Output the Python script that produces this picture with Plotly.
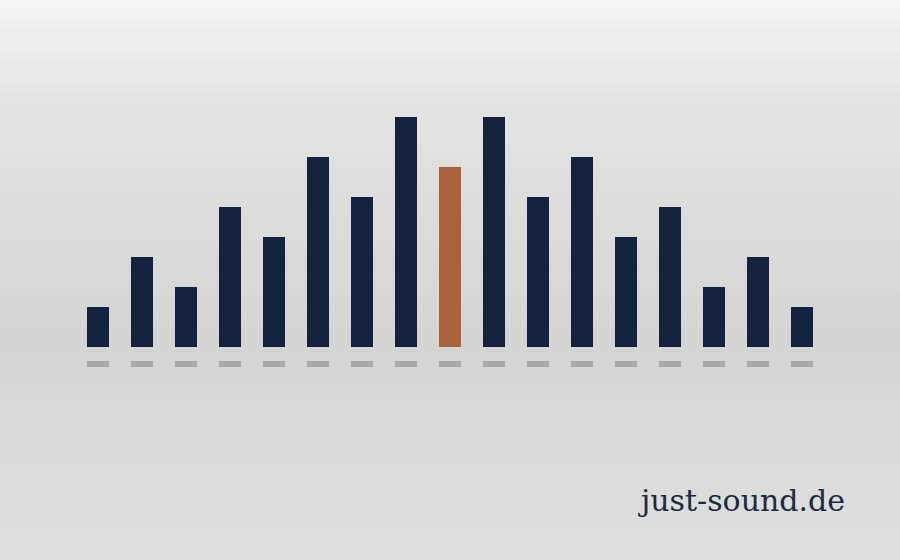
import base64
import plotly.graph_objects as go

# bar heights (one unit = 10 px)
positions = list(range(17))
levels = [4, 9, 6, 14, 11, 19, 15, 23, 18, 23, 15, 19, 11, 14, 6, 9, 4]
highlight = 8  # the orange one in the middle
shadow_size = [0.6] * 17

navy = '#13233f'
orange = '#a9623b'
colors = [orange if i == highlight else navy for i in positions]

# soft vertical gradient behind everything
svg = (
    '<svg xmlns="http://www.w3.org/2000/svg" width="900" height="560">'
    '<defs><linearGradient id="g" x1="0" y1="0" x2="0" y2="1">'
    '<stop offset="0" stop-color="#f4f4f2"/>'
    '<stop offset="0.2" stop-color="#e3e3e1"/>'
    '<stop offset="0.6" stop-color="#d4d4d2"/>'
    '<stop offset="1" stop-color="#dfdfdd"/>'
    '</linearGradient></defs>'
    '<rect width="900" height="560" fill="url(#g)"/></svg>'
)
bg = 'data:image/svg+xml;base64,' + base64.b64encode(svg.encode()).decode()

fig = go.Figure()
fig.add_trace(go.Bar(
    x=positions, y=levels, width=0.5,
    marker=dict(color=colors, line=dict(width=0)),
    hoverinfo='skip'
))
# little grey dashes under each bar
fig.add_trace(go.Bar(
    x=positions, y=shadow_size, base=-2.0, width=0.5,
    marker=dict(color='#a8a9ab', line=dict(width=0)),
    hoverinfo='skip'
))

fig.add_annotation(
    text='just-sound.de', xref='paper', yref='paper',
    x=847 / 900, y=0.107, xanchor='right', yanchor='middle',
    showarrow=False,
    font=dict(family='DejaVu Serif, serif', size=30, color='#1a2a44')
)

fig.update_layout(
    width=900, height=560,
    margin=dict(l=0, r=0, t=0, b=0),
    paper_bgcolor='#d8d8d6', plot_bgcolor='rgba(0,0,0,0)',
    showlegend=False, barmode='overlay',
    images=[dict(source=bg, xref='paper', yref='paper', x=0, y=1,
                 sizex=1, sizey=1, sizing='stretch', layer='below')],
    xaxis=dict(range=[-98 / 44, (900 - 98) / 44], visible=False, fixedrange=True),
    yaxis=dict(range=[-21.3, 34.7], visible=False, fixedrange=True),
)

# drop the page's default body margin so the figure sits at 0,0
fig.write_html('out.html', config={'displayModeBar': False},
               post_script="document.body.style.margin='0';")
